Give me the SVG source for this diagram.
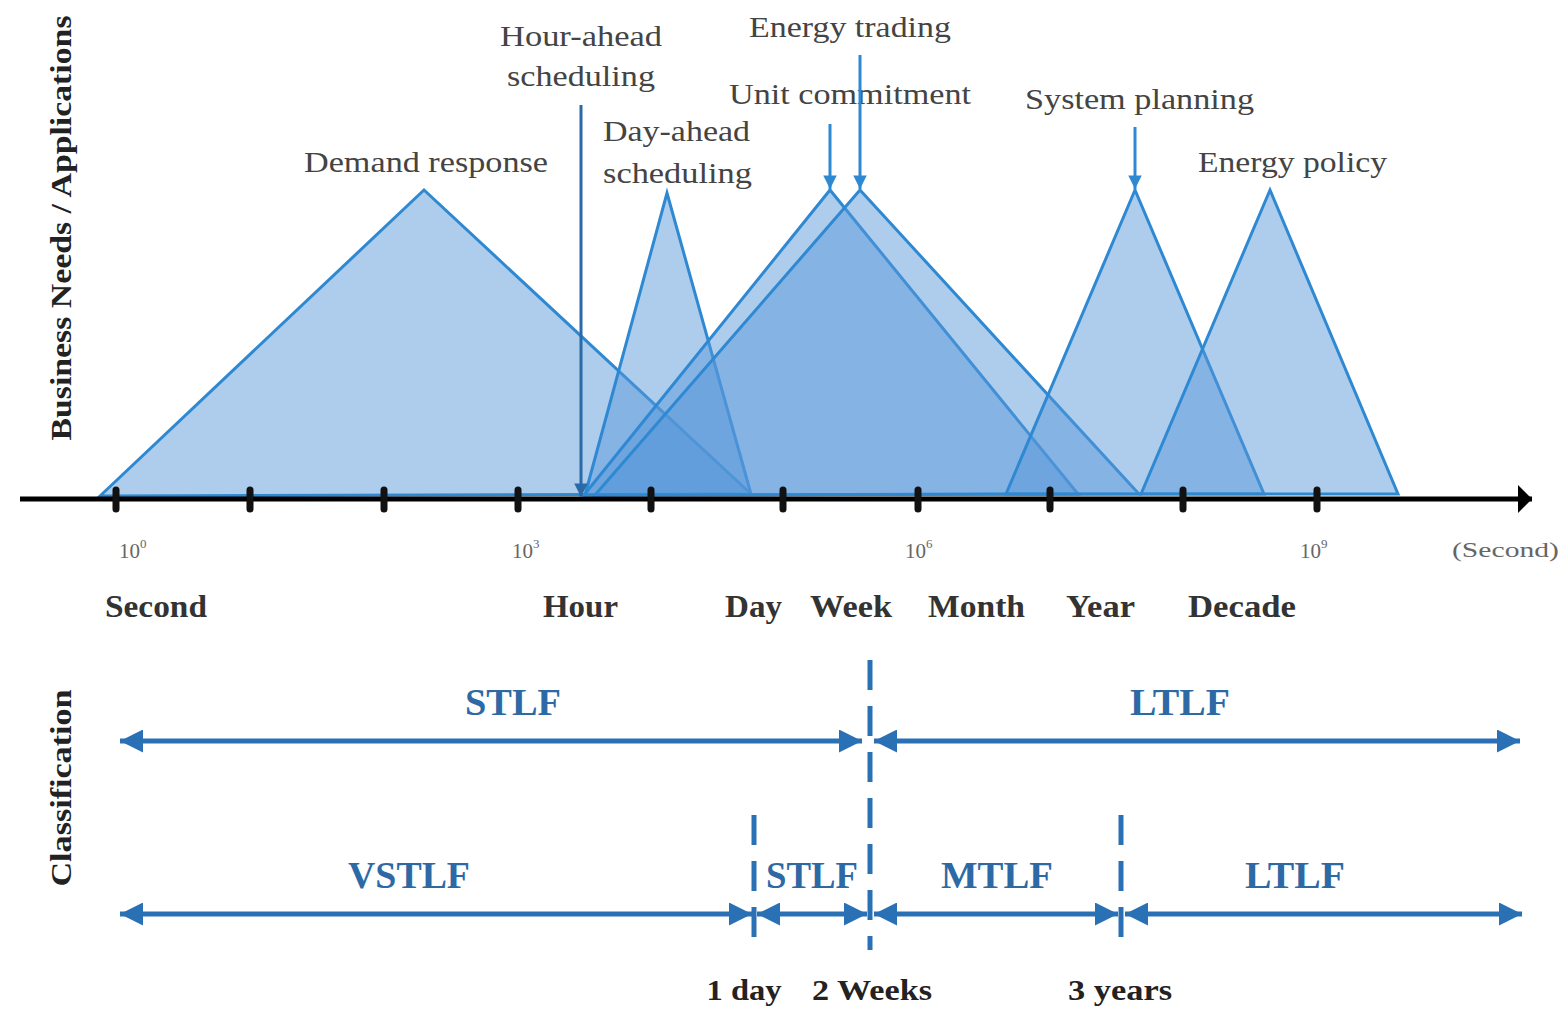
<svg xmlns="http://www.w3.org/2000/svg" width="1568" height="1011" viewBox="0 0 1568 1011">
<defs>
<style>
text{font-family:"Liberation Serif","Times New Roman",Times,serif}
.tri{fill:rgb(85,150,218);fill-opacity:0.48;stroke:#2f89d2;stroke-width:3;stroke-linejoin:miter}
.lab{font-size:30px;fill:#444}
.tick{stroke:#111;stroke-width:7;stroke-linecap:round}
.num{font-size:21px;fill:#666}
.time{font-size:31px;font-weight:bold;fill:#333}
.cls{font-size:37px;font-weight:bold;fill:#2d6aa5}
.bot{font-size:29px;font-weight:bold;fill:#222}
.side{font-size:30px;font-weight:bold;fill:#222}
.dbl{stroke:#2a70b5;stroke-width:5;fill:none}
.dash{stroke:#2a70b5;stroke-width:5;stroke-dasharray:30 16;fill:none}
.pin{stroke:#2f89d2;stroke-width:3;fill:none}
</style>
<marker id="ahB" viewBox="0 0 10 10" refX="10" refY="5" markerWidth="4.6" markerHeight="4.6" markerUnits="strokeWidth" orient="auto-start-reverse"><path d="M0,0 L10,5 L0,10 Z" fill="#2a70b5"/></marker>
<marker id="ahP" viewBox="0 0 10 10" refX="10" refY="5" markerWidth="5" markerHeight="4.5" markerUnits="strokeWidth" orient="auto"><path d="M0,0 L10,5 L0,10 Z" fill="#2f89d2"/></marker>
<marker id="ahD" viewBox="0 0 10 10" refX="10" refY="5" markerWidth="5" markerHeight="4.5" markerUnits="strokeWidth" orient="auto"><path d="M0,0 L10,5 L0,10 Z" fill="#2a6aa8"/></marker>
<marker id="ahK" viewBox="0 0 5 10" refX="5" refY="5" markerWidth="2.8" markerHeight="5.6" markerUnits="strokeWidth" orient="auto" preserveAspectRatio="none"><path d="M0,0 L5,5 L0,10 Z" fill="#000"/></marker>
</defs>
<rect width="1568" height="1011" fill="#fff"/>

<g id="triangles">
<polygon id="demand-response" class="tri" points="100,496 424,190 751,494"/>
<polygon id="day-ahead" class="tri" points="585,495 667,193 751,494"/>
<polygon id="unit-commitment" class="tri" points="584,495 830,190 1078,494"/>
<polygon id="energy-trading" class="tri" points="595,495 860,190 1139,494"/>
<polygon id="system-planning" class="tri" points="1006,494 1135,190 1264,494"/>
<polygon id="energy-policy" class="tri" points="1141,494 1270,190 1398,494"/>
</g>

<g id="axis">
<line x1="20" y1="499" x2="1532" y2="499" stroke="#000" stroke-width="5" marker-end="url(#ahK)"/>
<line class="tick" x1="116" y1="490" x2="116" y2="509"/>
<line class="tick" x1="250" y1="490" x2="250" y2="509"/>
<line class="tick" x1="384" y1="490" x2="384" y2="509"/>
<line class="tick" x1="518" y1="490" x2="518" y2="509"/>
<line class="tick" x1="651" y1="490" x2="651" y2="509"/>
<line class="tick" x1="783" y1="490" x2="783" y2="509"/>
<line class="tick" x1="918" y1="490" x2="918" y2="509"/>
<line class="tick" x1="1050" y1="490" x2="1050" y2="509"/>
<line class="tick" x1="1183" y1="490" x2="1183" y2="509"/>
<line class="tick" x1="1317" y1="490" x2="1317" y2="509"/>
<text class="num" x="119" y="558">10<tspan font-size="13" dy="-10">0</tspan></text>
<text class="num" x="512" y="558">10<tspan font-size="13" dy="-10">3</tspan></text>
<text class="num" x="905" y="558">10<tspan font-size="13" dy="-10">6</tspan></text>
<text class="num" x="1300" y="558">10<tspan font-size="13" dy="-10">9</tspan></text>
<text class="num" x="1452" y="557" textLength="107" lengthAdjust="spacingAndGlyphs">(Second)</text>
<text class="time" x="105" y="617" textLength="102" lengthAdjust="spacingAndGlyphs">Second</text>
<text class="time" x="543" y="617" textLength="75" lengthAdjust="spacingAndGlyphs">Hour</text>
<text class="time" x="725" y="617" textLength="57" lengthAdjust="spacingAndGlyphs">Day</text>
<text class="time" x="810" y="617" textLength="82" lengthAdjust="spacingAndGlyphs">Week</text>
<text class="time" x="928" y="617" textLength="97" lengthAdjust="spacingAndGlyphs">Month</text>
<text class="time" x="1066" y="617" textLength="69" lengthAdjust="spacingAndGlyphs">Year</text>
<text class="time" x="1188" y="617" textLength="108" lengthAdjust="spacingAndGlyphs">Decade</text>
</g>

<g id="labels">
<text class="lab" x="500" y="46" textLength="162" lengthAdjust="spacingAndGlyphs">Hour-ahead</text>
<text class="lab" x="507" y="86" textLength="148" lengthAdjust="spacingAndGlyphs">scheduling</text>
<text class="lab" x="749" y="37" textLength="202" lengthAdjust="spacingAndGlyphs">Energy trading</text>
<text class="lab" x="729" y="104" textLength="242" lengthAdjust="spacingAndGlyphs">Unit commitment</text>
<text class="lab" x="603" y="141" textLength="147" lengthAdjust="spacingAndGlyphs">Day-ahead</text>
<text class="lab" x="603" y="183" textLength="149" lengthAdjust="spacingAndGlyphs">scheduling</text>
<text class="lab" x="304" y="172" textLength="244" lengthAdjust="spacingAndGlyphs">Demand response</text>
<text class="lab" x="1025" y="109" textLength="229" lengthAdjust="spacingAndGlyphs">System planning</text>
<text class="lab" x="1198" y="172" textLength="189" lengthAdjust="spacingAndGlyphs">Energy policy</text>
<text class="side" transform="translate(71,228) rotate(-90)" text-anchor="middle" textLength="425" lengthAdjust="spacingAndGlyphs">Business Needs / Applications</text>
<text class="side" transform="translate(71,788) rotate(-90)" text-anchor="middle" textLength="197" lengthAdjust="spacingAndGlyphs">Classification</text>
</g>

<g id="connectors">
<line x1="581" y1="105" x2="581" y2="497" stroke="#2a6aa8" stroke-width="3" marker-end="url(#ahD)"/>
<line class="pin" x1="830" y1="124" x2="830" y2="189" marker-end="url(#ahP)"/>
<line class="pin" x1="860" y1="55" x2="860" y2="189" marker-end="url(#ahP)"/>
<line class="pin" x1="1135" y1="127" x2="1135" y2="189" marker-end="url(#ahP)"/>
<line class="dash" x1="870" y1="660" x2="870" y2="950"/>
<line class="dash" x1="754" y1="815" x2="754" y2="950"/>
<line class="dash" x1="1121" y1="815" x2="1121" y2="950"/>
<line class="dbl" x1="120" y1="741" x2="862" y2="741" marker-start="url(#ahB)" marker-end="url(#ahB)"/>
<line class="dbl" x1="874" y1="741" x2="1520" y2="741" marker-start="url(#ahB)" marker-end="url(#ahB)"/>
<line class="dbl" x1="120" y1="914" x2="752" y2="914" marker-start="url(#ahB)" marker-end="url(#ahB)"/>
<line class="dbl" x1="757" y1="914" x2="867" y2="914" marker-start="url(#ahB)" marker-end="url(#ahB)"/>
<line class="dbl" x1="874" y1="914" x2="1118" y2="914" marker-start="url(#ahB)" marker-end="url(#ahB)"/>
<line class="dbl" x1="1125" y1="914" x2="1522" y2="914" marker-start="url(#ahB)" marker-end="url(#ahB)"/>
</g>

<g id="classes">
<text class="cls" x="513" y="715" text-anchor="middle" textLength="96" lengthAdjust="spacingAndGlyphs">STLF</text>
<text class="cls" x="1180" y="715" text-anchor="middle" textLength="100" lengthAdjust="spacingAndGlyphs">LTLF</text>
<text class="cls" x="409" y="888" text-anchor="middle" textLength="122" lengthAdjust="spacingAndGlyphs">VSTLF</text>
<text class="cls" x="812" y="888" text-anchor="middle" textLength="92" lengthAdjust="spacingAndGlyphs">STLF</text>
<text class="cls" x="997" y="888" text-anchor="middle" textLength="112" lengthAdjust="spacingAndGlyphs">MTLF</text>
<text class="cls" x="1295" y="888" text-anchor="middle" textLength="100" lengthAdjust="spacingAndGlyphs">LTLF</text>
<text class="bot" x="744" y="1000" text-anchor="middle" textLength="75" lengthAdjust="spacingAndGlyphs">1 day</text>
<text class="bot" x="872" y="1000" text-anchor="middle" textLength="120" lengthAdjust="spacingAndGlyphs">2 Weeks</text>
<text class="bot" x="1120" y="1000" text-anchor="middle" textLength="104" lengthAdjust="spacingAndGlyphs">3 years</text>
</g>
</svg>
